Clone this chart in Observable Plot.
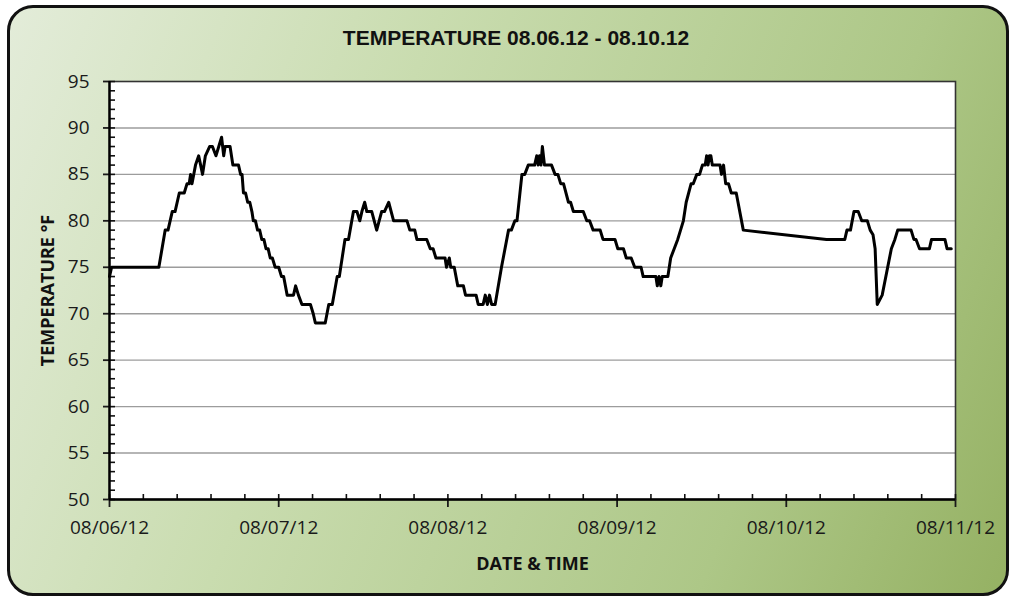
<!DOCTYPE html>
<html>
<head>
<meta charset="utf-8">
<script src="https://cdn.jsdelivr.net/npm/d3@7"></script>
<script src="https://cdn.jsdelivr.net/npm/@observablehq/plot@0.6"></script>
<style>
  html, body { margin: 0; padding: 0; width: 1012px; height: 599px; overflow: hidden; background: #ffffff; }
  #wrap { position: relative; width: 1012px; height: 599px; }
  #bg { position: absolute; left: 7px; top: 5px; width: 1002px; height: 591px; box-sizing: border-box;
        border: 3px solid #111; border-radius: 26px;
        background: linear-gradient(112deg, #e3ecd9 0%, #c9dcaf 35%, #adc787 75%, #95b163 100%); }
  #title { position: relative; z-index: 1; height: 60px; box-sizing: border-box; padding-top: 26px; padding-left: 20px;
           text-align: center; font: bold 21px "Liberation Sans", Arial, sans-serif; color: #111; line-height: 24px; }
  #chart { position: relative; z-index: 1; }
</style>
</head>
<body>
<div id="wrap">
  <div id="bg"></div>
  <div id="title">TEMPERATURE 08.06.12 - 08.10.12</div>
  <div id="chart"></div>
</div>
<script>
// Chart text
const titleText = "TEMPERATURE 08.06.12 - 08.10.12";
const yLabel = "TEMPERATURE °F";
const xLabel = "DATE & TIME";

// X tick labels (one per day, starting 08/06/12 00:00)
const dateLabels = ["08/06/12", "08/07/12", "08/08/12", "08/09/12", "08/10/12", "08/11/12"];
// Y tick values
const yTicks = [50, 55, 60, 65, 70, 75, 80, 85, 90, 95];

// Series: hours elapsed since 08/06/12 00:00, and temperature (°F)
const hours = [
  0, 0.3, 7.0, 7.9, 8.3, 8.9, 9.3, 9.9, 10.6, 11.0, 11.3, 11.5, 11.7, 12.2, 12.65, 13.2, 13.6, 14.2, 14.6, 15.1,
  15.5, 15.9, 16.2, 16.4,
  17.1, 17.5, 18.3, 18.6, 18.8, 19.0, 19.3, 19.6, 19.9, 20.2, 20.4, 20.7, 21.0, 21.3, 21.6, 21.9, 22.2, 22.5, 22.8, 23.1,
  23.5, 24.0, 24.4, 24.7, 25.2, 26.1, 26.4, 26.8, 27.3, 28.5, 28.9, 29.2, 30.6,
  31.1, 31.6, 32.3, 32.6, 33.4, 33.9, 34.6, 35.1, 35.5, 35.8, 36.2, 36.5, 37.2, 37.9, 38.6, 39.0,
  39.6, 40.3, 42.2, 42.6, 43.3, 43.6, 45.0, 45.5, 45.9, 46.3, 47.6, 47.8, 48.2, 48.4, 48.9, 49.4, 50.2, 50.5, 52.0, 52.3,
  53.0, 53.3, 53.6, 53.9, 54.2, 54.7, 55.6, 56.6, 57.0, 57.5, 57.8, 58.5, 58.9, 59.4, 60.3, 60.6, 60.8, 61.0, 61.2, 61.4,
  61.7, 62.7, 63.2, 63.6, 64.0, 64.4, 65.1, 65.4, 65.8, 67.2, 67.7, 68.1, 68.6, 69.6, 70.0, 71.7, 72.1, 72.9, 73.3, 74.0,
  74.5, 75.4, 75.7, 77.5, 77.7, 77.95, 78.2, 78.4, 79.2, 79.6, 80.1, 80.6, 81.4, 81.8, 82.5, 82.8, 83.3, 83.7, 84.1, 84.5,
  84.7, 84.9, 85.1, 85.3, 85.5, 86.6, 86.8, 87.1, 87.4, 87.8, 88.2, 88.9, 89.9, 101.7, 104.3, 104.6, 105.1, 105.6, 106.2, 106.7,
  107.5, 107.9, 108.3, 108.6, 108.9, 109.6, 110.9, 111.4, 111.8, 113.7, 114.1, 114.4, 114.9, 116.3, 116.6, 118.5, 118.8, 119.4
];
const tempF = [
  74, 75, 75, 79, 79, 81, 81, 83, 83, 84, 84, 85, 84, 86, 87, 85, 87, 88, 88, 87,
  88, 89, 87, 88,
  88, 86, 86, 85, 85, 83, 83, 82, 82, 81, 80, 80, 79, 79, 78, 78, 77, 77, 76, 76,
  75, 75, 74, 74, 72, 72, 73, 72, 71, 71, 70, 69, 69,
  71, 71, 74, 74, 78, 78, 81, 81, 80, 81, 82, 81, 81, 79, 81, 81,
  82, 80, 80, 79, 79, 78, 78, 77, 77, 76, 76, 75, 76, 75, 75, 73, 73, 72, 72, 71,
  71, 72, 71, 72, 71, 71, 75, 79, 79, 80, 80, 85, 85, 86, 86, 87, 86, 87, 86, 88,
  86, 86, 85, 85, 84, 84, 82, 82, 81, 81, 80, 80, 79, 79, 78, 78, 77, 77, 76, 76,
  75, 75, 74, 74, 73, 74, 73, 74, 74, 76, 77, 78, 80, 82, 84, 84, 85, 85, 86, 86,
  87, 86, 87, 87, 86, 86, 85, 86, 84, 84, 83, 83, 79, 78, 78, 79, 79, 81, 81, 80,
  80, 79, 78.5, 77, 71, 72, 77, 78, 79, 79, 78, 78, 77, 77, 78, 78, 77, 77
];

const start = Date.UTC(2012, 7, 6);
const HOUR = 3600e3;
const data = hours.map((h, i) => ({ date: new Date(start + h * HOUR), temp: tempF[i] }));
const dayTicks = dateLabels.map((_, i) => new Date(start + i * 24 * HOUR));
const minorX = d3.range(0, 26).map(i => new Date(start + i * 4.8 * HOUR));
const minorY = d3.range(yTicks[0], yTicks[yTicks.length - 1] + 1);
const gridY = yTicks.slice(1, -1);

const W = 1012, H = 539, ML = 109, MR = 57, MT = 21, MB = 100;
const frameW = W - ML - MR, frameH = H - MT - MB;

document.getElementById("title").textContent = titleText;

const chart = Plot.plot({
  width: W, height: H,
  marginLeft: ML, marginRight: MR, marginTop: MT, marginBottom: MB,
  style: { background: "transparent", fontFamily: "'Open Sans', sans-serif", fontSize: "19px", color: "#1a1a1a", overflow: "visible" },
  x: { type: "utc", domain: [dayTicks[0], dayTicks[dayTicks.length - 1]] },
  y: { domain: [yTicks[0], yTicks[yTicks.length - 1]] },
  marks: [
    Plot.frame({ fill: "white", stroke: null }),
    Plot.ruleY(gridY, { stroke: "#9c9c9c", strokeWidth: 1.4 }),
    Plot.frame({ stroke: "#333", strokeWidth: 1.6 }),
    Plot.ruleX(minorX, { stroke: "#111", strokeWidth: 1.6, insetTop: frameH - 5 }),
    Plot.ruleY(minorY, { stroke: "#111", strokeWidth: 1.6, insetRight: frameW - 6 }),
    Plot.axisX(dayTicks, {
      tickSize: 8, tickPadding: 13, strokeWidth: 1.8, label: null, fontSize: 19,
      tickFormat: d => dateLabels[dayTicks.findIndex(t => +t === +d)]
    }),
    Plot.axisY(yTicks, { tickSize: 6, tickPadding: 14, strokeWidth: 1.8, label: null, fontSize: 19 }),
    Plot.ruleX([dayTicks[0]], { stroke: "#000", strokeWidth: 2.4 }),
    Plot.ruleY([yTicks[0]], { stroke: "#000", strokeWidth: 2.4 }),
    Plot.line(data, { x: "date", y: "temp", stroke: "#000", strokeWidth: 3, strokeLinejoin: "round" }),
    Plot.text([yLabel], { frameAnchor: "left", dx: -61, rotate: -90, textAnchor: "middle", lineAnchor: "middle", fontWeight: "bold", fontSize: 18, fill: "#111" }),
    Plot.text([xLabel], { frameAnchor: "bottom", dy: 65, textAnchor: "middle", lineAnchor: "middle", fontWeight: "bold", fontSize: 18, fill: "#111" })
  ]
});
document.getElementById("chart").appendChild(chart);
</script>
</body>
</html>
